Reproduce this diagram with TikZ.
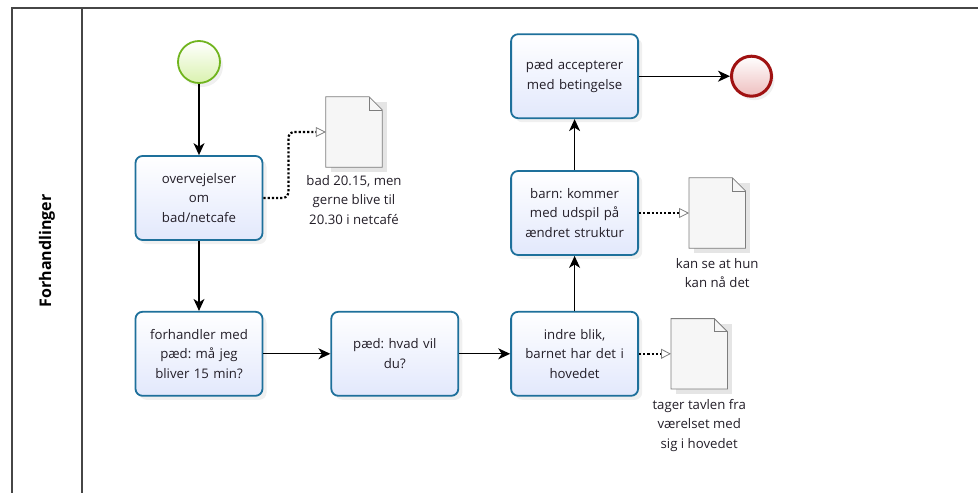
\documentclass[tikz,border=0pt]{standalone}
\usepackage{fontspec}
\setmainfont{Open Sans}
\usetikzlibrary{positioning,arrows.meta,shadows}
\frenchspacing

\definecolor{taskblue}{RGB}{30,112,155}
\definecolor{taskfill}{RGB}{226,232,252}
\definecolor{startgreen}{RGB}{112,180,30}
\definecolor{startfill}{RGB}{218,242,175}
\definecolor{endred}{RGB}{160,18,18}
\definecolor{endfill}{RGB}{238,190,190}
\definecolor{lanegray}{RGB}{70,70,70}
\definecolor{docgray}{RGB}{125,125,125}
\definecolor{docfill}{RGB}{246,246,246}
\definecolor{textdark}{RGB}{35,30,40}

\begin{document}
\begin{tikzpicture}[
x=1pt, y=-1pt,
font=\fontsize{13.2}{19.5}\selectfont,
task/.style={rectangle, rounded corners=7pt, draw=taskblue, line width=1.8pt, top color=white, bottom color=taskfill, text=textdark, minimum width=127pt, minimum height=84pt, text width=120pt, align=center, drop shadow={shadow xshift=4pt, shadow yshift=-4pt, opacity=0.12}},
startev/.style={circle, draw=startgreen, line width=1.8pt, top color=white, bottom color=startfill, minimum size=42pt, drop shadow={shadow xshift=3pt, shadow yshift=-4pt, opacity=0.12}},
endev/.style={circle, draw=endred, line width=3pt, top color=white, bottom color=endfill, minimum size=40pt, drop shadow={shadow xshift=3pt, shadow yshift=-4pt, opacity=0.12}},
docnode/.style={rectangle, minimum width=56pt, minimum height=70pt, inner sep=0pt},
doclabel/.style={align=center, text=textdark, inner sep=0pt},
docline/.style={draw=docgray, line width=0.8pt, fill=docfill},
seq/.style={-{Stealth[length=12pt, width=11pt, inset=3.5pt]}, line width=1.3pt},
assoc/.style={-{Triangle[open, length=10pt, width=10pt, line width=0.8pt, color=docgray]}, line width=2.2pt, dash pattern=on 2.2pt off 2pt},
lane/.style={draw=lanegray, line width=1.4pt},
]
\useasboundingbox (0,0) rectangle (978,493);

%Lane
\draw[lane] (12,493) -- (12,8) -- (978,8);
\draw[lane] (82,8) -- (82,493);
\node[rotate=90, font=\fontsize{16}{18}\selectfont\bfseries] (lanename) at (47,251) {Forhandlinger};

%Nodes
\node[startev]  (start)                        at (199,62)  {};
\node[task]     (t1)                           at (199,198) {overvejelser\\om\\bad/netcafe};
\node[task]     (t2)     [below=70pt of t1]                 {forhandler med\\pæd: må jeg\\bliver 15 min?};
\node[task]     (t3)     [right=67pt of t2]                 {pæd: hvad vil\\du?};
\node[task]     (t4)     [right=51pt of t3]                 {indre blik,\\barnet har det i\\hovedet};
\node[task]     (t5)     [above=55pt of t4]                 {barn: kommer\\med udspil på\\ændret struktur};
\node[task]     (t6)     [above=51pt of t5]                 {pæd accepterer\\med betingelse};
\node[endev]    (end)    [right=91pt of t6]                 {};

%Documents
\node[docnode]  (d1)                           at (354,132) {};
\node[docnode]  (d2)     [right=50pt of t5]                 {};
\node[docnode]  (d3)     [right=32pt of t4]                 {};
\foreach \d in {d1,d2,d3}{
  \fill[black, opacity=0.1] ([shift={(5pt,-5pt)}]\d.north west) rectangle ([shift={(5pt,-5pt)}]\d.south east);
  \draw[docline] (\d.north west) -- ([xshift=-13pt]\d.north east) -- ([yshift=-13pt]\d.north east) -- (\d.south east) -- (\d.south west) -- cycle;
  \draw[docgray, line width=0.6pt] ([xshift=-13pt]\d.north east) -- ([xshift=-13pt, yshift=-13pt]\d.north east) -- ([yshift=-13pt]\d.north east);
}
\node[doclabel] (l1)     [below=8pt of d1]  {bad 20.15, men\\gerne blive til\\20.30 i netcafé};
\node[doclabel] (l2)     [below=10pt of d2] {kan se at hun\\kan nå det};
\node[doclabel] (l3)     [below=10pt of d3] {tager tavlen fra\\værelset med\\sig i hovedet};

%Lines
\draw[seq] (start) -- (t1);
\draw[seq] (t1) -- (t2);
\draw[seq] (t2) -- (t3);
\draw[seq] (t3) -- (t4);
\draw[seq] (t4) -- (t5);
\draw[seq] (t5) -- (t6);
\draw[seq] (t6) -- (end);
\draw[assoc, rounded corners=5pt] (t1.east) -- ++(25,0) |- (d1.west);
\draw[assoc] (t5) -- (d2);
\draw[assoc] (t4) -- (d3);

\end{tikzpicture}
\end{document}
